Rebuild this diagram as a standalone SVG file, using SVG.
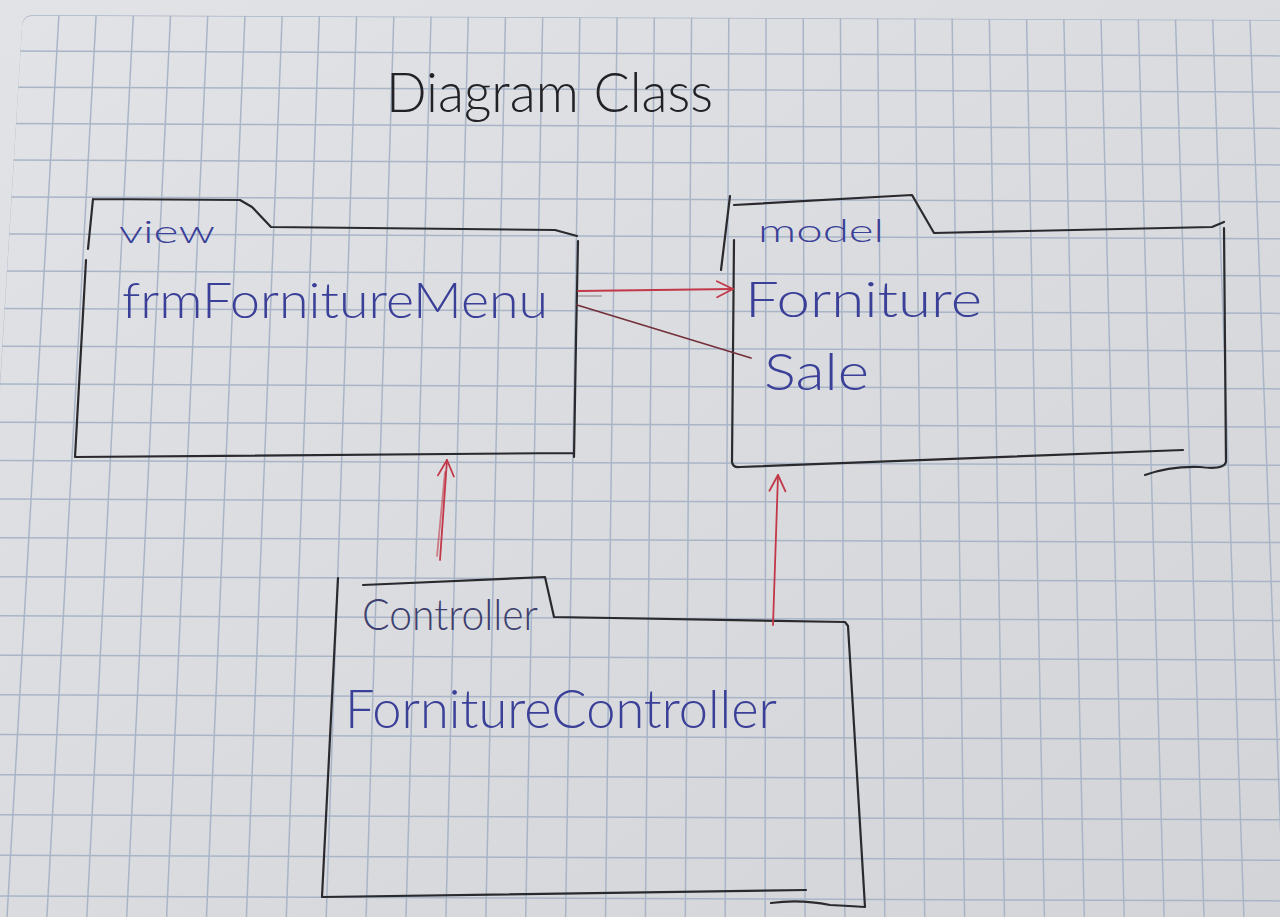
<svg xmlns="http://www.w3.org/2000/svg" width="1280" height="917" viewBox="0 0 1280 917">
<defs>
<linearGradient id="paper" x1="0" y1="0" x2="1" y2="1">
<stop offset="0" stop-color="#e2e3e6"/>
<stop offset="1" stop-color="#d2d4d8"/>
</linearGradient>
<clipPath id="gridclip"><path d="M22,27 Q22,15 34,15 L1280,20 L1280,917 L-33,917 Z"/></clipPath>
<marker id="arrowOpen" viewBox="0 0 20 20" refX="19" refY="10" markerWidth="20" markerHeight="20" orient="auto" markerUnits="userSpaceOnUse">
<path d="M3,2 L19,10 L3,18" fill="none" stroke="#c23848" stroke-width="1.8" stroke-linecap="round" stroke-linejoin="round"/>
</marker>
<style>
.grid{fill:none;stroke:#a9b5c7;stroke-width:1.5}
.pen{fill:none;stroke:#2a2a2e;stroke-width:2.2;stroke-linecap:round;stroke-linejoin:round}
.red{fill:none;stroke:#c23848;stroke-width:1.8;stroke-linecap:round;stroke-linejoin:round}
.maroon{fill:none;stroke:#74303a;stroke-width:1.8;stroke-linecap:round}
.ink{font-family:Lato,"DejaVu Sans","Liberation Sans",sans-serif;font-weight:300;fill:#3a3f98}
.title{font-family:Lato,"DejaVu Sans","Liberation Sans",sans-serif;font-weight:300;fill:#222226}
</style>
</defs>
<rect x="0" y="0" width="1280" height="917" fill="url(#paper)"/>
<g id="grid" clip-path="url(#gridclip)">
<path class="grid" d="M59.2,10 L7,917 M96.4,10 L46.9,917 M133.6,10 L86.8,917 M170.8,10 L126.7,917 M208,10 L166.6,917 M245.2,10 L206.5,917 M282.4,10 L246.4,917 M319.6,10 L286.3,917 M356.8,10 L326.2,917 M394,10 L366.1,917 M431.2,10 L406,917 M468.4,10 L445.9,917 M505.6,10 L485.8,917 M542.8,10 L525.7,917 M580,10 L565.6,917 M617.2,10 L605.5,917 M654.4,10 L645.4,917 M691.6,10 L685.3,917 M728.8,10 L725.2,917 M766,10 L765.1,917 M803.2,10 L805,917 M840.4,10 L844.9,917 M877.6,10 L884.8,917 M914.8,10 L924.7,917 M952,10 L964.6,917 M989.2,10 L1004.5,917 M1026.4,10 L1044.4,917 M1063.6,10 L1084.3,917 M1100.8,10 L1124.2,917 M1138,10 L1164.1,917 M1175.2,10 L1204,917 M1212.4,10 L1243.9,917 M1249.6,10 L1283.8,917"/>
<path class="grid" d="M-40,50.9 L1280,55.9 M-40,87 L1280,92 M-40,123.4 L1280,128.4 M-40,159.9 L1280,164.9 M-40,196.7 L1280,201.7 M-40,233.7 L1280,238.7 M-40,270.9 L1280,275.9 M-40,308.4 L1280,313.4 M-40,346 L1280,351 M-40,383.9 L1280,388.9 M-40,422 L1280,427 M-40,460.3 L1280,465.3 M-40,498.8 L1280,503.8 M-40,537.5 L1280,542.5 M-40,576.5 L1280,581.5 M-40,615.6 L1280,620.6 M-40,655 L1280,660 M-40,694.6 L1280,699.6 M-40,734.4 L1280,739.4 M-40,774.5 L1280,779.5 M-40,814.7 L1280,819.7 M-40,855.2 L1280,860.2 M-40,895.9 L1280,900.9"/>
<path class="grid" d="M-33,917 L21.3,27 Q22,15 34,15 L1280,20"/>
</g>
<g id="title">
<text class="title" x="386" y="112" font-size="56" textLength="327" lengthAdjust="spacingAndGlyphs">Diagram Class</text>
</g>
<g id="view">
<path class="pen" d="M93,199 L240,200 L252,207 L271,227 L555,230 L577,236 M578,241 L576,340 L574,457 M573,453 L75,457 L86,260 M88,249 L93,199"/>
<text class="ink" x="119" y="243" font-size="32" textLength="96" lengthAdjust="spacingAndGlyphs">view</text>
<text class="ink" x="122" y="318" font-size="50" textLength="426" lengthAdjust="spacingAndGlyphs">frmFornitureMenu</text>
</g>
<g id="model">
<path class="pen" d="M721,270 L730,196 M734,205 L912,195 L934,233 L1212,227 L1224,222 M1224,228 L1226,462 Q1224,470 1200,467 Q1170,466 1145,475 M734,240 L732,462 Q733,468 740,467 L1183,450"/>
<text class="ink" x="758" y="242" font-size="32" textLength="126" lengthAdjust="spacingAndGlyphs">model</text>
<text class="ink" x="745" y="317" font-size="50" textLength="237" lengthAdjust="spacingAndGlyphs">Forniture</text>
<text class="ink" x="764" y="390" font-size="52" textLength="105" lengthAdjust="spacingAndGlyphs">Sale</text>
</g>
<g id="controller">
<path class="pen" d="M338,578 L322,897 L806,890 M363,585 L545,577 L554,617 L845,622 L848,626 L865,907 Q850,906 830,905 Q800,899 771,903"/>
<text class="ink" x="362" y="630" font-size="44" textLength="176" lengthAdjust="spacingAndGlyphs" style="fill:#3d3f6e">Controller</text>
<text class="ink" x="345" y="728" font-size="54" textLength="432" lengthAdjust="spacingAndGlyphs">FornitureController</text>
</g>
<g id="connectors">
<path class="red" d="M578,291 L733,289" marker-end="url(#arrowOpen)"/>
<path d="M578,296 L602,296" fill="none" stroke="#9c8c92" stroke-width="1.2"/>
<path class="maroon" d="M577,305 L751,358"/>
<path class="red" d="M440,560 L447,460" marker-end="url(#arrowOpen)"/>
<path class="red" d="M437,556 L445,472" stroke-opacity="0.6"/>
<path class="red" d="M773,625 L778,475" marker-end="url(#arrowOpen)"/>
</g>
</svg>
